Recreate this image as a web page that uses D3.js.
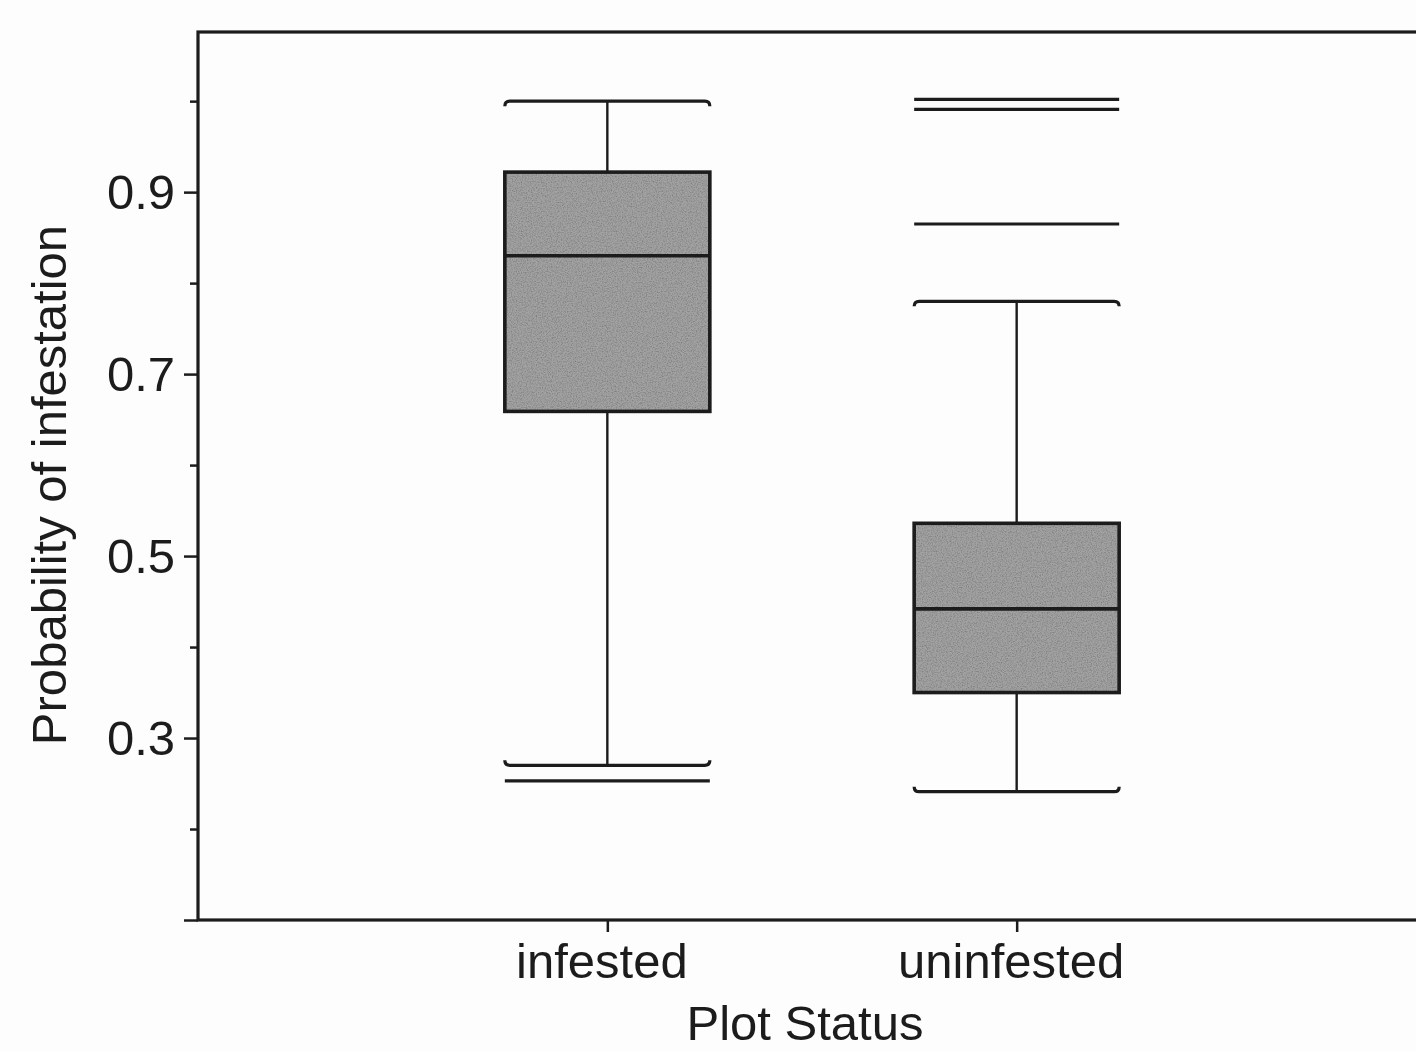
<!DOCTYPE html>
<html>
<head>
<meta charset="utf-8">
<script src="https://cdn.jsdelivr.net/npm/d3@7"></script>
<style>
  body { margin: 0; background: #fdfdfd; }
  svg { display: block; font-family: "Liberation Sans", Arial, sans-serif; }
</style>
</head>
<body>
<svg width="1416" height="1052"></svg>
<script>
// categories and five-number summaries
const groups = ["infested", "uninfested"];
const whiskerLow = [0.270, 0.241];
const q1 = [0.659, 0.350];
const median = [0.830, 0.442];
const q3 = [0.922, 0.536];
const whiskerHigh = [1.000, 0.780];
// extreme values drawn as plain lines
const outliers = [[0.253], [1.002, 0.991, 0.865]];

const majorTicks = [0.1, 0.3, 0.5, 0.7, 0.9];
const minorTicks = [0.2, 0.4, 0.6, 0.8, 1.0];

const ink = "#1c1c1c";
const svg = d3.select("svg");

// plot area
const area = { left: 198, right: 1426, top: 32, bottom: 920 };

const scX = d3.scalePoint()
    .domain(groups)
    .range([area.left, area.right])
    .padding(1);

const scY = d3.scaleLinear()
    .domain([0.1, 1.076])
    .range([area.bottom, area.top]);

const boxW = 205;
const data = groups.map((g, i) => ({
    name: g, lo: whiskerLow[i], q1: q1[i], med: median[i], q3: q3[i], hi: whiskerHigh[i], out: outliers[i]
}));

// grainy grey fill like the printed figure
const defs = svg.append("defs");
const grain = defs.append("filter").attr("id", "grain").attr("x", 0).attr("y", 0).attr("width", 1).attr("height", 1);
grain.append("feTurbulence").attr("type", "fractalNoise").attr("baseFrequency", 0.8).attr("numOctaves", 2).attr("seed", 3).attr("result", "noise");
grain.append("feColorMatrix").attr("in", "noise").attr("type", "matrix")
    .attr("values", "0 0 0 0 0  0 0 0 0 0  0 0 0 0 0  0 0 0 -0.9 0.55").attr("result", "dots");
grain.append("feComposite").attr("in", "dots").attr("in2", "SourceGraphic").attr("operator", "in").attr("result", "clipped");
grain.append("feMerge").call(m => {
    m.append("feMergeNode").attr("in", "SourceGraphic");
    m.append("feMergeNode").attr("in", "clipped");
});

const g = svg.append("g");

// whiskers (vertical line)
g.selectAll(".whisk")
    .data(data)
    .enter()
    .append("line")
    .attr("x1", d => scX(d.name))
    .attr("x2", d => scX(d.name))
    .attr("y1", d => scY(d.lo))
    .attr("y2", d => scY(d.hi))
    .attr("stroke", ink)
    .attr("stroke-width", 2.4);

// caps with small hooks at the ends
function capPath(x, y, dir) {
    const h = 5;
    return `M${x - boxW / 2},${y + dir * h} Q${x - boxW / 2},${y} ${x - boxW / 2 + h},${y}
            L${x + boxW / 2 - h},${y} Q${x + boxW / 2},${y} ${x + boxW / 2},${y + dir * h}`;
}
g.selectAll(".capHi")
    .data(data)
    .enter()
    .append("path")
    .attr("d", d => capPath(scX(d.name), scY(d.hi), 1))
    .attr("fill", "none")
    .attr("stroke", ink)
    .attr("stroke-width", 3.2);
g.selectAll(".capLo")
    .data(data)
    .enter()
    .append("path")
    .attr("d", d => capPath(scX(d.name), scY(d.lo), -1))
    .attr("fill", "none")
    .attr("stroke", ink)
    .attr("stroke-width", 3.2);

// boxes: grainy fill, then outline
g.selectAll(".boxFill")
    .data(data)
    .enter()
    .append("rect")
    .attr("x", d => scX(d.name) - boxW / 2)
    .attr("y", d => scY(d.q3))
    .attr("width", boxW)
    .attr("height", d => scY(d.q1) - scY(d.q3))
    .attr("fill", "#a2a2a2")
    .attr("filter", "url(#grain)");
g.selectAll(".box")
    .data(data)
    .enter()
    .append("rect")
    .attr("x", d => scX(d.name) - boxW / 2)
    .attr("y", d => scY(d.q3))
    .attr("width", boxW)
    .attr("height", d => scY(d.q1) - scY(d.q3))
    .attr("fill", "none")
    .attr("stroke", ink)
    .attr("stroke-width", 3.6);

// medians
g.selectAll(".med")
    .data(data)
    .enter()
    .append("line")
    .attr("x1", d => scX(d.name) - boxW / 2)
    .attr("x2", d => scX(d.name) + boxW / 2)
    .attr("y1", d => scY(d.med))
    .attr("y2", d => scY(d.med))
    .attr("stroke", ink)
    .attr("stroke-width", 3.6);

// outlier lines
const outPts = data.flatMap(d => d.out.map(v => ({ name: d.name, v: v })));
g.selectAll(".out")
    .data(outPts)
    .enter()
    .append("line")
    .attr("x1", d => scX(d.name) - boxW / 2)
    .attr("x2", d => scX(d.name) + boxW / 2)
    .attr("y1", d => scY(d.v))
    .attr("y2", d => scY(d.v))
    .attr("stroke", ink)
    .attr("stroke-width", 3.2);

// frame
svg.append("rect")
    .attr("x", area.left)
    .attr("y", area.top)
    .attr("width", area.right - area.left)
    .attr("height", area.bottom - area.top)
    .attr("fill", "none")
    .attr("stroke", ink)
    .attr("stroke-width", 3.2);

// y axis: major ticks with labels, minor ticks without
const axisY = d3.axisLeft(scY)
    .tickValues(majorTicks)
    .tickSize(14)
    .tickPadding(9)
    .tickFormat(d => d < 0.15 ? "" : d3.format(".1f")(d));
const gy = svg.append("g")
    .attr("transform", `translate(${area.left},0)`)
    .call(axisY);
gy.selectAll("text")
    .style("font-size", "49px")
    .attr("fill", ink)
    .attr("dy", "0.34em");

const gyMinor = svg.append("g")
    .attr("transform", `translate(${area.left},0)`)
    .call(d3.axisLeft(scY).tickValues(minorTicks).tickSize(8).tickFormat(""));

[gy, gyMinor].forEach(a => {
    a.select(".domain").remove();
    a.selectAll("line").attr("stroke", ink).attr("stroke-width", 2.5);
});

// x axis
const gx = svg.append("g")
    .attr("transform", `translate(0,${area.bottom})`)
    .call(d3.axisBottom(scX).tickSize(12));
gx.select(".domain").remove();
gx.selectAll("line").attr("stroke", ink).attr("stroke-width", 2.5);
gx.selectAll("text")
    .style("font-size", "49px")
    .attr("fill", ink)
    .attr("y", 58)
    .attr("dy", 0)
    .attr("dx", -6);

// axis titles
svg.append("text")
    .attr("x", 805)
    .attr("y", 1040)
    .attr("text-anchor", "middle")
    .style("font-size", "49px")
    .attr("fill", ink)
    .text("Plot Status");

svg.append("text")
    .attr("transform", "translate(66,485) rotate(-90)")
    .attr("text-anchor", "middle")
    .style("font-size", "49px")
    .attr("fill", ink)
    .text("Probability of infestation");
</script>
</body>
</html>
